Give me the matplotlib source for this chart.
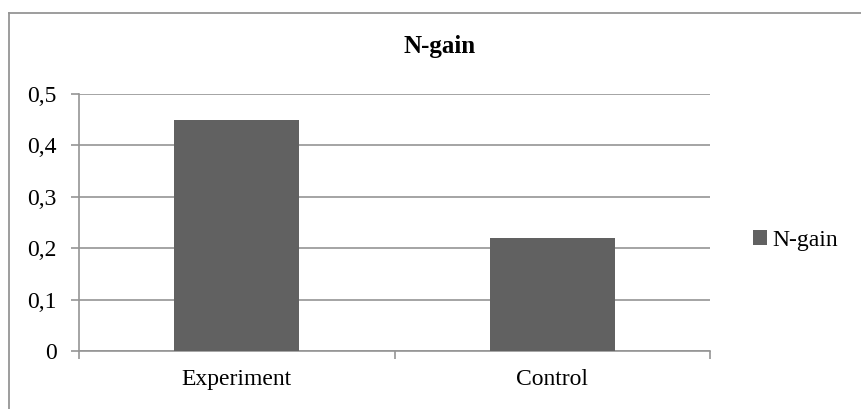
import matplotlib.pyplot as plt
from matplotlib.ticker import FuncFormatter, FixedLocator
from matplotlib.lines import Line2D

categories = ['Experiment', 'Control']
values = [0.45, 0.22]
series_name = 'N-gain'
y_ticks = [0, 0.1, 0.2, 0.3, 0.4, 0.5]

bar_color = '#616161'
line_color = '#959595'
plt.rcParams['font.family'] = ['Liberation Serif', 'DejaVu Serif']

fig = plt.figure(figsize=(8.61, 4.09), dpi=100)
# outer chart border (only left and top are visible in the crop)
bx, by = 8.5 / 861, 1 - 12.5 / 409
fig.add_artist(Line2D([bx, bx], [0, by], transform=fig.transFigure,
                      color=line_color, linewidth=1.3))
fig.add_artist(Line2D([bx, 1], [by, by], transform=fig.transFigure,
                      color=line_color, linewidth=1.3))

ax = fig.add_axes([79 / 861, 58 / 409, 631 / 861, 257 / 409])
x = list(range(len(categories)))
ax.bar(x, values, width=0.396, color=bar_color, label=series_name, zorder=3)

ax.set_xlim(-0.5, len(categories) - 0.5)
ax.set_ylim(0, 0.5)
ax.set_yticks(y_ticks)
ax.yaxis.set_major_formatter(FuncFormatter(lambda v, p: ('%g' % v).replace('.', ',')))
ax.yaxis.grid(True, color=line_color, linewidth=1.2, zorder=0)

ax.set_xticks(x)
ax.set_xticklabels(categories)
ax.xaxis.set_minor_locator(FixedLocator([-0.5, 0.5, 1.5]))
ax.tick_params(axis='x', which='major', length=0, pad=13, labelsize=17)
ax.tick_params(axis='x', which='minor', length=6, color=line_color, width=1.2)
ax.tick_params(axis='y', length=6, color=line_color, width=1.2, labelsize=17, pad=10)

for side in ['top', 'right']:
    ax.spines[side].set_visible(False)
for side in ['left', 'bottom']:
    ax.spines[side].set_color(line_color)
    ax.spines[side].set_linewidth(1.2)

fig.text(440 / 861, 1 - 46 / 409, 'N-gain', ha='center', va='center',
         fontsize=18, fontweight='bold')

ax.legend(loc='center left', bbox_to_anchor=(1.068, 0.43), frameon=False,
          fontsize=17, handlelength=0.6, handleheight=0.6, handletextpad=0.22,
          borderpad=0, borderaxespad=0)

fig.savefig('out.png', dpi=100)
